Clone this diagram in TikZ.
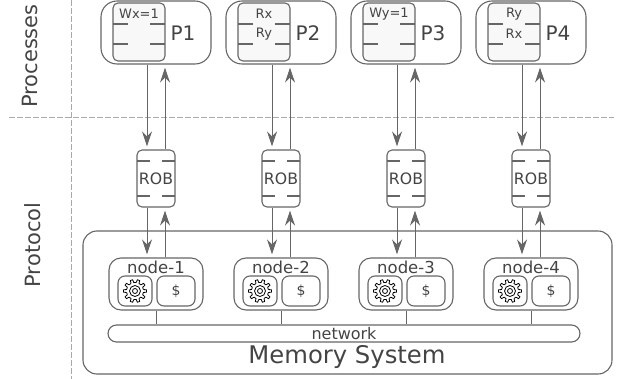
\documentclass[tikz,border=0pt]{standalone}
\usepackage{fontspec}
\setmainfont{DejaVu Sans}
\usetikzlibrary{arrows.meta, calc}

\definecolor{linegray}{HTML}{666666}
\definecolor{textgray}{HTML}{444444}
\definecolor{guidegray}{HTML}{AAAAAA}
\definecolor{bufferfill}{HTML}{F8F8F8}

\newcommand{\fsize}[1]{\fontsize{#1}{#1}\selectfont}

\begin{document}
\begin{tikzpicture}[
            x=1pt, y=-1pt,
            every node/.style={text=textgray, inner sep=0pt},
            roundbox/.style={rectangle, draw=linegray, line width=1.1pt, rounded corners=#1},
            roundbox/.default=5pt,
            process/.style={roundbox=16pt, minimum width=110pt, minimum height=63pt},
            buffer/.style={roundbox=5pt, fill=bufferfill, minimum width=52pt, minimum height=58pt,
                path picture={
                    \draw[linegray, line width=1.1pt]
                        ($(path picture bounding box.north west)+(0,21)$) -- +(15,0)
                        ($(path picture bounding box.north east)+(0,21)$) -- +(-15,0)
                        ($(path picture bounding box.north west)+(0,41)$) -- +(15,0)
                        ($(path picture bounding box.north east)+(0,41)$) -- +(-15,0);
                }},
            rob/.style={roundbox=5pt, minimum width=38pt, minimum height=57pt, font=\fsize{15.7},
                path picture={
                    \draw[linegray, line width=1.1pt]
                        ($(path picture bounding box.north west)+(0,11)$) -- +(13,0)
                        ($(path picture bounding box.north east)+(0,11)$) -- +(-13,0)
                        ($(path picture bounding box.south west)+(0,-11)$) -- +(13,0)
                        ($(path picture bounding box.south east)+(0,-11)$) -- +(-13,0);
                }},
            cachenode/.style={roundbox=12pt, minimum width=94pt, minimum height=52pt},
            gearbox/.style={roundbox=7pt, minimum width=34pt, minimum height=30pt,
                path picture={
                    \begin{scope}[shift={(path picture bounding box.center)}, sharp corners, black, line width=.8pt, line join=round]
                        \foreach \a in {0,36,...,324} {
                            \draw (\a-10:8.5) -- (\a-6:11.5) -- (\a+6:11.5) -- (\a+10:8.5) arc (\a+10:\a+26:8.5);
                        }
                        \draw (0,0) circle (5.5) (0,0) circle (2.5);
                    \end{scope}
                }},
            cachebox/.style={roundbox=7pt, minimum width=38pt, minimum height=30pt, font=\fsize{14}},
            arrow/.style={-{Stealth[length=15pt, width=10pt, inset=5pt]}, draw=linegray, line width=1pt, shorten >=3pt},
            link/.style={draw=linegray, line width=.8pt},
            guide/.style={draw=guidegray, line width=1pt, dash pattern=on 6pt off 2pt},
            side/.style={font=\fsize{21}, rotate=90},
            bufftext/.style={font=\fsize{13}},
            proctext/.style={font=\fsize{20}},
            nodetext/.style={font=\fsize{16.5}}
        ]

\useasboundingbox (0,0) rectangle (620,379);

% Guides
            \coordinate (hleft) at (9,117.5);
            \coordinate (hright) at (614,117.5);
            \coordinate (vtop) at (71,0);
            \coordinate (vbottom) at (71,379);
            \draw[guide] (hleft) -- (hright);
            \draw[guide] (vtop) -- (vbottom);

            \node[side] (processes) at (30,56) {Processes};
            \node[side] (protocol) at (33,245) {Protocol};

% Processes
            \node[process] (p1) at (156,32.5) {};
            \node[process] (p2) at (281,32.5) {};
            \node[process] (p3) at (406,32.5) {};
            \node[process] (p4) at (531,32.5) {};

            \node[buffer] (buf1) at (139,32) {};
            \node[buffer] (buf2) at (264,32) {};
            \node[buffer] (buf3) at (389,32) {};
            \node[buffer] (buf4) at (514,32) {};

            \node[bufftext] (wx) at (139,14) {Wx=1};
            \node[bufftext] (rx2) at (264,14) {Rx};
            \node[bufftext] (ry2) at (264,34) {Ry};
            \node[bufftext] (wy) at (389,14) {Wy=1};
            \node[bufftext] (ry4) at (514,14) {Ry};
            \node[bufftext] (rx4) at (514,34) {Rx};

            \node[proctext] (name1) at (183,33) {P1};
            \node[proctext] (name2) at (308,33) {P2};
            \node[proctext] (name3) at (433,33) {P3};
            \node[proctext] (name4) at (558,33) {P4};

% Reorder buffers
            \node[rob] (rob1) at (156,178.5) {ROB};
            \node[rob] (rob2) at (281,178.5) {ROB};
            \node[rob] (rob3) at (406,178.5) {ROB};
            \node[rob] (rob4) at (531,178.5) {ROB};

% Memory system
            \node[roundbox=14pt, minimum width=529pt, minimum height=143pt] (memory) at (347.5,302.5) {};
            \node[font=\fsize{24.3}] (memname) at (347,357) {Memory System};

            \node[cachenode] (node1) at (156,284) {};
            \node[cachenode] (node2) at (281,284) {};
            \node[cachenode] (node3) at (406,284) {};
            \node[cachenode] (node4) at (531,284) {};

            \node[nodetext] (name5) at (156,267) {node-1};
            \node[nodetext] (name6) at (281,267) {node-2};
            \node[nodetext] (name7) at (406,267) {node-3};
            \node[nodetext] (name8) at (531,267) {node-4};

            \node[gearbox] (gear1) at (135,291) {};
            \node[gearbox] (gear2) at (260,291) {};
            \node[gearbox] (gear3) at (385,291) {};
            \node[gearbox] (gear4) at (510,291) {};

            \node[cachebox] (cache1) at (176,291) {\$};
            \node[cachebox] (cache2) at (301,291) {\$};
            \node[cachebox] (cache3) at (426,291) {\$};
            \node[cachebox] (cache4) at (551,291) {\$};

            \node[roundbox=8.5pt, minimum width=472pt, minimum height=17pt, font=\fsize{16}] (network) at (344,333.5) {network};

% Process to buffer flow
            \draw[arrow] ([xshift=-9pt]p1.south) -- ([xshift=-9pt]rob1.north);
            \draw[arrow] ([xshift=9pt]rob1.north) -- ([xshift=9pt]p1.south);
            \draw[arrow] ([xshift=-9pt]p2.south) -- ([xshift=-9pt]rob2.north);
            \draw[arrow] ([xshift=9pt]rob2.north) -- ([xshift=9pt]p2.south);
            \draw[arrow] ([xshift=-9pt]p3.south) -- ([xshift=-9pt]rob3.north);
            \draw[arrow] ([xshift=9pt]rob3.north) -- ([xshift=9pt]p3.south);
            \draw[arrow] ([xshift=-9pt]p4.south) -- ([xshift=-9pt]rob4.north);
            \draw[arrow] ([xshift=9pt]rob4.north) -- ([xshift=9pt]p4.south);

% Buffer to node flow
            \draw[arrow] ([xshift=-9pt]rob1.south) -- ([xshift=-9pt]node1.north);
            \draw[arrow] ([xshift=9pt]node1.north) -- ([xshift=9pt]rob1.south);
            \draw[arrow] ([xshift=-9pt]rob2.south) -- ([xshift=-9pt]node2.north);
            \draw[arrow] ([xshift=9pt]node2.north) -- ([xshift=9pt]rob2.south);
            \draw[arrow] ([xshift=-9pt]rob3.south) -- ([xshift=-9pt]node3.north);
            \draw[arrow] ([xshift=9pt]node3.north) -- ([xshift=9pt]rob3.south);
            \draw[arrow] ([xshift=-9pt]rob4.south) -- ([xshift=-9pt]node4.north);
            \draw[arrow] ([xshift=9pt]node4.north) -- ([xshift=9pt]rob4.south);

% Network links
            \draw[link] (node1.south) -- (node1.south |- network.north);
            \draw[link] (node2.south) -- (node2.south |- network.north);
            \draw[link] (node3.south) -- (node3.south |- network.north);
            \draw[link] (node4.south) -- (node4.south |- network.north);

        \end{tikzpicture}
\end{document}
